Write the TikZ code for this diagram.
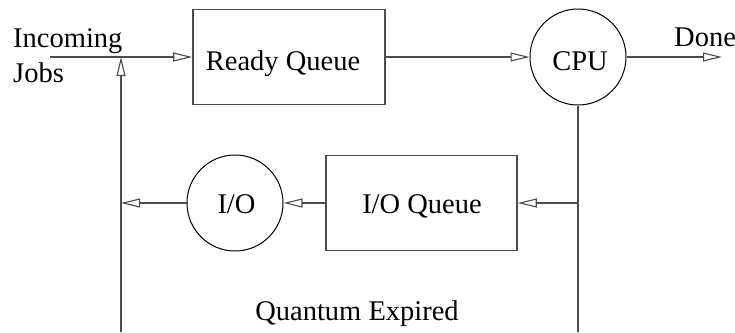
\documentclass[tikz,border=0pt]{standalone}
\usepackage{fontspec}
\setmainfont{Liberation Serif}
\usetikzlibrary{arrows.meta}
\begin{document}
\begin{tikzpicture}[x=1bp,y=-1bp,
  font=\fontsize{28.5bp}{34bp}\selectfont,
  flow/.style={draw=black!70, line width=1.4bp},
  arr/.style={flow, -{Triangle[open, length=19bp, width=9bp, line width=1.1bp]}},
  queuebox/.style={draw=black!70, line width=1.6bp, rectangle, inner sep=0pt},
  server/.style={draw=black, line width=1bp, circle, inner sep=0pt, minimum size=96bp},
  lbl/.style={inner sep=0pt, anchor=base west},
  centretext/.style={inner sep=0pt, anchor=base}]
\useasboundingbox (0,0) rectangle (735,332);

% queues and servers
\node[queuebox, minimum width=192bp, minimum height=95bp] (rq) at (289,57) {};
\node[server] (cpu) at (578,57) {};
\node[queuebox, minimum width=191bp, minimum height=95bp] (ioq) at (421.5,203) {};
\node[server] (io) at (235,203) {};

% their names
\node[centretext] (rqtxt) at (283,70) {Ready Queue};
\node[centretext] (cputxt) at (580,70) {CPU};
\node[centretext] (ioqtxt) at (422,213) {I/O Queue};
\node[centretext] (iotxt) at (236.5,213) {I/O};

% labels
\node[lbl] (inc) at (13,47) {Incoming};
\node[lbl] (jobs) at (13,82) {Jobs};
\node[lbl] (donelbl) at (674,46) {Done};
\node[centretext] (qe) at (357,320) {Quantum Expired};

% junction points
\coordinate (src) at (50,57);
\coordinate (join) at (121,57);
\coordinate (done) at (722,57);
\coordinate (tap) at (578,203);
\coordinate (ret) at (121,203);
\coordinate (bl) at (121,332);
\coordinate (br) at (578,332);

% connectors
\draw[arr] (src) -- (rq.west);
\draw[arr] (rq.east) -- (cpu.west);
\draw[arr] (cpu.east) -- (done);
\draw[flow] (cpu.south) -- (br);
\draw[arr] (tap) -- (ioq.east);
\draw[arr] (ioq.west) -- (io.east);
\draw[arr] (io.west) -- (ret);
\draw[arr] (bl) -- (join);
\end{tikzpicture}
\end{document}
